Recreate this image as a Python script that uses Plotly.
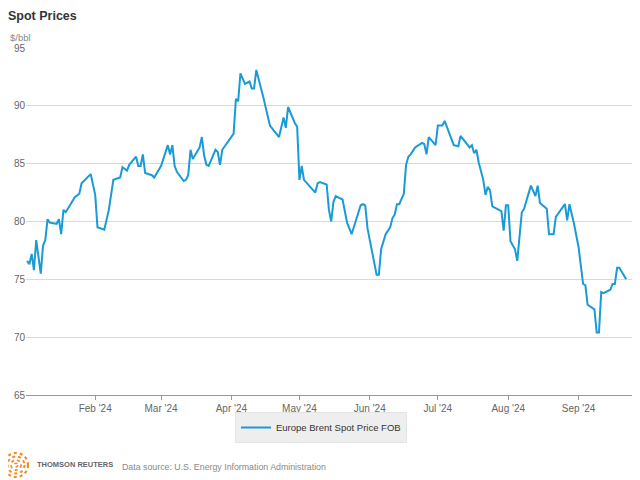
import plotly.graph_objects as go

# Europe Brent spot price FOB, $/bbl
dates = [
    "2024-01-02", "2024-01-03", "2024-01-04", "2024-01-05", "2024-01-06", "2024-01-07",
    "2024-01-08", "2024-01-09", "2024-01-10", "2024-01-11", "2024-01-12", "2024-01-15",
    "2024-01-16", "2024-01-17", "2024-01-18", "2024-01-19", "2024-01-23", "2024-01-25",
    "2024-01-26", "2024-01-30", "2024-02-01", "2024-02-02", "2024-02-05", "2024-02-07",
    "2024-02-09", "2024-02-12", "2024-02-13", "2024-02-15", "2024-02-16", "2024-02-19",
    "2024-02-20", "2024-02-21", "2024-02-22", "2024-02-23", "2024-02-26", "2024-02-27",
    "2024-02-28", "2024-03-01", "2024-03-04", "2024-03-05", "2024-03-06", "2024-03-07",
    "2024-03-08", "2024-03-11", "2024-03-12", "2024-03-13", "2024-03-14", "2024-03-15",
    "2024-03-18", "2024-03-19", "2024-03-20", "2024-03-21", "2024-03-22", "2024-03-25",
    "2024-03-26", "2024-03-27", "2024-03-28", "2024-04-02", "2024-04-03", "2024-04-04",
    "2024-04-05", "2024-04-07", "2024-04-09", "2024-04-10", "2024-04-11", "2024-04-12",
    "2024-04-15", "2024-04-18", "2024-04-22", "2024-04-24", "2024-04-25", "2024-04-26",
    "2024-04-29", "2024-04-30", "2024-05-01", "2024-05-02", "2024-05-03", "2024-05-08",
    "2024-05-09", "2024-05-10", "2024-05-13", "2024-05-14", "2024-05-15", "2024-05-16",
    "2024-05-17", "2024-05-20", "2024-05-22", "2024-05-24", "2024-05-28", "2024-05-29",
    "2024-05-30", "2024-05-31", "2024-06-04", "2024-06-05", "2024-06-06", "2024-06-08",
    "2024-06-10", "2024-06-11", "2024-06-12", "2024-06-13", "2024-06-14", "2024-06-16",
    "2024-06-17", "2024-06-18", "2024-06-19", "2024-06-21", "2024-06-24", "2024-06-25",
    "2024-06-26", "2024-06-27", "2024-06-30", "2024-07-01", "2024-07-03", "2024-07-04",
    "2024-07-08", "2024-07-10", "2024-07-11", "2024-07-14", "2024-07-15", "2024-07-16",
    "2024-07-17", "2024-07-18", "2024-07-19", "2024-07-21", "2024-07-22", "2024-07-23",
    "2024-07-24", "2024-07-25", "2024-07-28", "2024-07-29", "2024-07-30", "2024-07-31",
    "2024-08-01", "2024-08-02", "2024-08-04", "2024-08-05", "2024-08-07", "2024-08-08",
    "2024-08-11", "2024-08-13", "2024-08-14", "2024-08-15", "2024-08-18", "2024-08-19",
    "2024-08-21", "2024-08-22", "2024-08-26", "2024-08-27", "2024-08-28", "2024-08-30",
    "2024-09-01", "2024-09-03", "2024-09-04", "2024-09-05", "2024-09-08", "2024-09-09",
    "2024-09-10", "2024-09-11", "2024-09-12", "2024-09-15", "2024-09-16", "2024-09-17",
    "2024-09-18", "2024-09-19", "2024-09-22",
]
brent = [
    76.6, 76.3, 77.2, 75.8, 78.4, 76.8,
    75.5, 77.9, 78.4, 80.2, 79.9, 79.8,
    80.2, 78.9, 81.0, 80.8, 82.1, 82.4,
    83.3, 84.1, 82.3, 79.5, 79.3, 81.0,
    83.6, 83.8, 84.7, 84.4, 84.9, 85.6,
    84.8, 84.8, 85.8, 84.2, 84.0, 83.8,
    84.1, 84.8, 86.6, 85.8, 86.6, 84.8,
    84.3, 83.5, 83.6, 84.0, 86.2, 85.4,
    86.4, 87.3, 85.7, 84.9, 84.8, 86.2,
    86.0, 84.9, 86.2, 87.6, 90.6, 90.4,
    92.8, 91.9, 92.1, 91.5, 91.5, 93.1,
    90.8, 88.3, 87.3, 89.0, 88.1, 89.9,
    88.5, 88.2, 83.6, 84.8, 83.6, 82.5,
    83.3, 83.4, 83.2, 81.0, 80.0, 81.7,
    82.2, 81.9, 79.9, 78.9, 81.4, 81.5,
    81.4, 79.4, 75.4, 75.4, 77.6, 78.9,
    79.5, 80.3, 80.6, 81.5, 81.5, 82.4,
    84.9, 85.6, 85.8, 86.4, 86.8, 86.7,
    85.8, 87.3, 86.6, 88.3, 88.3, 88.7,
    86.6, 86.5, 87.4, 86.7, 86.4, 86.6,
    85.9, 86.2, 85.1, 83.6, 82.3, 83.0,
    82.7, 81.3, 81.0, 80.9, 79.2, 81.4,
    81.4, 78.3, 77.6, 76.6, 80.8, 81.1,
    83.1, 82.2, 83.1, 81.6, 81.1, 78.9,
    78.9, 80.4, 81.5, 80.1, 81.5, 79.8,
    77.8, 74.6, 74.5, 72.8, 72.4, 70.4,
    70.4, 73.9, 73.8, 74.1, 74.6, 74.6,
    76.0, 76.0, 75.0,
]
series_name = "Europe Brent Spot Price FOB"

FONT = "Arial, Liberation Sans, sans-serif"
BLUE = "#1a9ad6"
ORANGE = "#f28c28"

# page body adds an 8px offset, so the figure is 8px smaller each way
W, H = 632, 472
L, R, T, B = 18, 7, 40, 85
PW, PH = W - L - R, H - T - B


def px(x):  # window x -> paper x
    return (x - 8 - L) / PW


def py(y):  # window y -> paper y
    return (H - B - (y - 8)) / PH


fig = go.Figure()
fig.add_trace(go.Scatter(
    x=dates, y=brent, name=series_name, mode="lines",
    line=dict(color=BLUE, width=2),
))

# Thomson Reuters style dotted logo
shapes = []
for r, w in [(12, 2.2), (8.5, 2), (5, 1.8), (1.8, 1.5)]:
    shapes.append(dict(
        type="circle", xref="paper", yref="paper",
        xsizemode="pixel", ysizemode="pixel",
        xanchor=px(16), yanchor=py(465),
        x0=-r, x1=r, y0=-r, y1=r,
        line=dict(color=ORANGE, width=w, dash="dot"),
    ))

fig.update_layout(
    width=W, height=H,
    margin=dict(l=L, r=R, t=T, b=B),
    paper_bgcolor="white", plot_bgcolor="white",
    font=dict(family=FONT, size=10, color="#666666"),
    title=dict(text="<b>Spot Prices</b>", x=0, xanchor="left",
               y=1 - 8 / H, yanchor="middle",
               font=dict(size=12.5, color="#333333", family=FONT)),
    xaxis=dict(
        type="date",
        range=["2024-01-01 12:00", "2024-09-25"],
        dtick="M1", tick0="2024-01-01", tickformat="%b '%y",
        ticks="outside", ticklen=4, tickcolor="#999999",
        showgrid=False, showline=True, linecolor="#999999", linewidth=1,
        tickfont=dict(size=10, color="#666666"),
        zeroline=False,
    ),
    yaxis=dict(
        range=[65, 95], dtick=5, showgrid=True, gridcolor="#d9d9d9",
        gridwidth=1, zeroline=False, showline=False,
        tickfont=dict(size=10, color="#666666"), ticks="",
    ),
    showlegend=True,
    legend=dict(
        orientation="h", x=px(321), xanchor="center", y=py(412), yanchor="top",
        bgcolor="#eeeeee", bordercolor="#e4e4e4", borderwidth=1,
        font=dict(size=9.5, color="#333333"), itemwidth=30,
    ),
    shapes=shapes,
    annotations=[
        dict(text="$/bbl", xref="paper", yref="paper",
             x=px(8), y=py(38), xanchor="left", yanchor="middle",
             showarrow=False, font=dict(size=9.5, color="#888888")),
        dict(text="<b>THOMSON REUTERS</b>", xref="paper", yref="paper",
             x=px(35), y=py(464), xanchor="left", yanchor="middle",
             showarrow=False, font=dict(size=7.5, color="#666666")),
        dict(text="Data source: U.S. Energy Information Administration",
             xref="paper", yref="paper",
             x=px(120), y=py(467), xanchor="left", yanchor="middle",
             showarrow=False, font=dict(size=8.8, color="#888888")),
    ],
)

fig.write_html("out.html")
